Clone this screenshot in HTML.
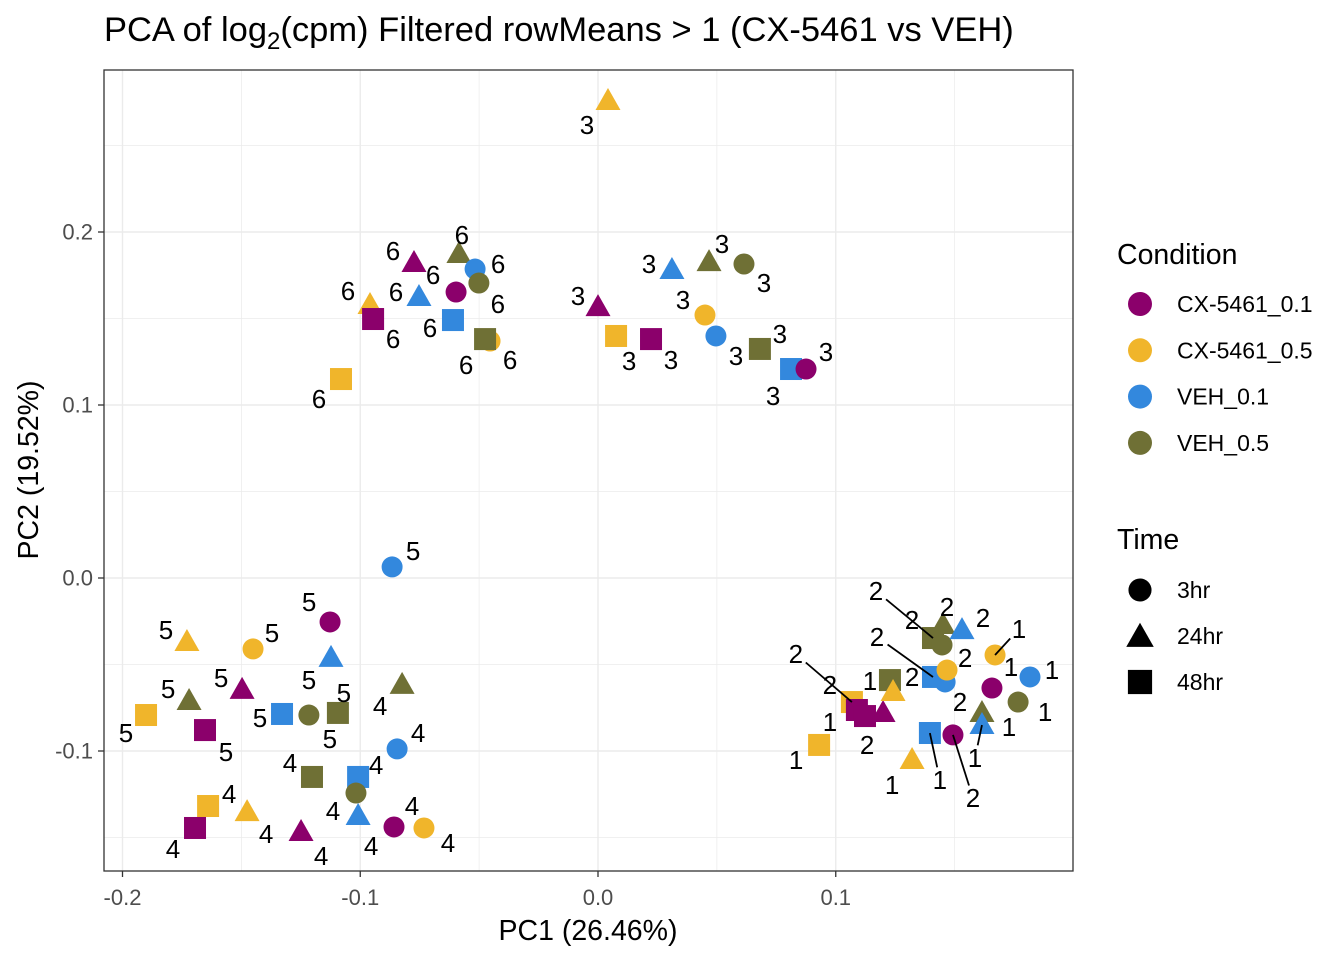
<!DOCTYPE html>
<html><head><meta charset="utf-8">
<style>
html,body{margin:0;padding:0;background:#fff;}
svg{display:block;font-family:"Liberation Sans",Arial,sans-serif;}
</style></head>
<body>
<svg id="chart" width="1344" height="960" viewBox="0 0 1344 960">
<rect x="0" y="0" width="1344" height="960" fill="#fff"/>
<text x="104" y="41" font-size="34.5" fill="#000">PCA of log<tspan font-size="24" dy="8">2</tspan><tspan dy="-8">(cpm) Filtered rowMeans &gt; 1 (CX-5461 vs VEH)</tspan></text>
<g id="grid"></g>
<g id="marks"></g>
<rect x="104" y="70" width="969" height="801" fill="none" stroke="#333" stroke-width="1.3"/>
<g id="axes"></g>
<text x="588" y="940" font-size="28.5" text-anchor="middle" fill="#000">PC1 (26.46%)</text>
<text transform="translate(38,470) rotate(-90)" font-size="28.5" text-anchor="middle" fill="#000">PC2 (19.52%)</text>
<g id="legend"></g>
</svg>
<script>
// ---- data ----
const conditionNames = ["CX-5461_0.1","CX-5461_0.5","VEH_0.1","VEH_0.5"];
const timeNames = ["3hr","24hr","48hr"];
const xTicks = [-0.2,-0.1,0.0,0.1];
const xTickLabels = ["-0.2","-0.1","0.0","0.1"];
const yTicks = [-0.1,0.0,0.1,0.2];
const yTickLabels = ["-0.1","0.0","0.1","0.2"];
const pc1 = [
 -0.1081,-0.0959,-0.0946,-0.0774,-0.0753,-0.0597,-0.0585,-0.0517,-0.0501,-0.0610,-0.0454,-0.0475,
 0.0042,0.0000,0.0076,0.0223,0.0311,0.0467,0.0614,0.0450,0.0496,0.0681,0.0812,0.0875,
 -0.0866,-0.1127,-0.1729,-0.1451,-0.1123,-0.1497,-0.1720,-0.1901,-0.1653,-0.1329,-0.1216,-0.1094,
 -0.0824,-0.0845,-0.1203,-0.1009,-0.1018,-0.1640,-0.1476,-0.1695,-0.1249,-0.1009,-0.0858,-0.0732,
 0.0930,0.1068,0.1089,0.1123,0.1199,0.1228,0.1241,0.1409,0.1460,0.1468,0.1409,0.1447,0.1451,0.1531,
 0.1670,0.1817,0.1657,0.1767,0.1615,0.1615,0.1396,0.1493,0.1321
];
const pc2 = [
 0.1150,0.1578,0.1497,0.1821,0.1624,0.1653,0.1873,0.1786,0.1705,0.1491,0.1370,0.1381,
 0.2757,0.1566,0.1399,0.1381,0.1780,0.1826,0.1815,0.1520,0.1399,0.1324,0.1208,0.1208,
 0.0064,-0.0254,-0.0370,-0.0410,-0.0462,-0.0647,-0.0711,-0.0792,-0.0879,-0.0786,-0.0792,-0.0780,
 -0.0618,-0.0988,-0.1150,-0.1150,-0.1243,-0.1318,-0.1353,-0.1445,-0.1468,-0.1376,-0.1439,-0.1445,
 -0.0965,-0.0717,-0.0763,-0.0798,-0.0780,-0.0590,-0.0659,-0.0572,-0.0601,-0.0532,-0.0347,-0.0387,-0.0272,-0.0301,
 -0.0445,-0.0572,-0.0636,-0.0717,-0.0780,-0.0850,-0.0896,-0.0907,-0.1052
];
const cond = [
 1,1,0,0,2,0,3,2,3,2,1,3,
 1,0,1,0,2,3,3,1,2,3,2,0,
 2,0,1,1,2,0,3,1,0,2,3,3,
 3,2,3,2,3,1,1,0,0,2,0,1,
 1,1,0,0,0,3,1,2,2,1,3,3,3,2,
 1,2,0,3,3,2,2,0,1
];
const timeIdx = [
 2,1,2,1,1,0,1,0,0,2,0,2,
 1,1,2,2,1,1,0,0,0,2,2,0,
 0,0,1,0,1,1,1,2,2,2,0,2,
 1,0,2,2,0,2,1,2,1,1,0,0,
 2,2,2,2,1,2,1,2,0,0,2,0,1,1,
 0,0,0,0,1,1,2,0,1
];
const sampleLabels = [
 "6","6","6","6","6","6","6","6","6","6","6","6",
 "3","3","3","3","3","3","3","3","3","3","3","3",
 "5","5","5","5","5","5","5","5","5","5","5","5",
 "4","4","4","4","4","4","4","4","4","4","4","4",
 "1","2","2","1","2","1","2","2","2","2","2","2","2","2",
 "1","1","1","1","1","1","1","2","1"
];
const labelDx = [
 -22,-22,20,-21,-23,-23,3,23,19,-23,20,-19,
 -21,-20,13,20,-23,13,20,-22,20,20,-18,20,
 21,-21,-21,19,-22,-21,-21,-20,21,-22,21,6,
 -22,21,-22,18,-23,21,19,-22,20,13,18,24,
 -23,-56,-27,-35,-16,-20,19,-56,20,13,-57,-30,4,21,
 24,22,19,27,27,-7,10,20,-20
];
const labelDy = [
 20,-14,20,-12,-5,-17,-19,-5,21,8,19,26,
 24,-11,25,21,-6,-18,19,-15,20,-15,27,-17,
 -16,-20,-12,-16,22,-12,-12,18,22,4,24,-20,
 21,-16,-14,-12,18,-12,22,21,24,30,-21,15,
 15,-48,-25,6,32,1,-15,-40,-24,32,-47,-25,-18,-12,
 -26,-7,-21,10,14,33,47,63,25
];
const labelSeg = [
 0,0,0,0,0,0,0,0,0,0,0,0,
 0,0,0,0,0,0,0,0,0,0,0,0,
 0,0,0,0,0,0,0,0,0,0,0,0,
 0,0,0,0,0,0,0,0,0,0,0,0,
 0,1,0,0,0,0,0,1,0,0,1,0,0,0,
 1,0,0,0,0,1,1,1,0
];
const colors = ["#8B006B","#F0B52B","#3388DD","#6F7035"];

// ---- scales ----
const X0=598, XS=2377.5, Y0=578, YS=1730;
function sx(v){return X0+v*XS;}
function sy(v){return Y0-v*YS;}
const NS="http://www.w3.org/2000/svg";
function mk(tag,attrs,parent){const e=document.createElementNS(NS,tag);for(const k in attrs)e.setAttribute(k,attrs[k]);parent.appendChild(e);return e;}

const grid=document.getElementById('grid');
for(let v=-0.25;v<=0.2001;v+=0.05){const px=sx(v);if(px<104||px>1073)continue;
 const major=Math.abs(Math.round(v*10)-v*10)<1e-6;
 const l=mk('line',{x1:px,x2:px,y1:70,y2:871,stroke:'#ebebeb','stroke-width':major?1.4:0.7},grid);
 
 }
for(let v=-0.2;v<=0.3001;v+=0.05){const py=sy(v);if(py<70||py>871)continue;
 const major=Math.abs(Math.round(v*10)-v*10)<1e-6;
 const l=mk('line',{x1:104,x2:1073,y1:py,y2:py,stroke:'#ebebeb','stroke-width':major?1.4:0.7},grid);
 
 }

const axes=document.getElementById('axes');
xTicks.forEach((v,i)=>{const px=sx(v);
 const t=mk('line',{x1:px,x2:px,y1:871,y2:877,stroke:'#333','stroke-width':1.3},axes);
 
 
 const tx=mk('text',{x:px,y:905,'font-size':22,'text-anchor':'middle',fill:'#4d4d4d'},axes);
 tx.textContent=xTickLabels[i];
 
 });
yTicks.forEach((v,i)=>{const py=sy(v);
 const t=mk('line',{x1:98,x2:104,y1:py,y2:py,stroke:'#333','stroke-width':1.3},axes);
 
 
 const tx=mk('text',{x:93,y:py+7.5,'font-size':22,'text-anchor':'end',fill:'#4d4d4d'},axes);
 tx.textContent=yTickLabels[i];
 
 });

function shape(parent,t,cx,cy,fill,s){
 let e;
 if(t===0) e=mk('circle',{cx:cx,cy:cy,r:10.5*s,fill:fill},parent);
 else if(t===1) e=mk('polygon',{points:`${cx},${cy-13*s} ${cx+12.5*s},${cy+9*s} ${cx-12.5*s},${cy+9*s}`,fill:fill},parent);
 else e=mk('rect',{x:cx-11*s,y:cy-11*s,width:22*s,height:22*s,fill:fill},parent);
 return e;
}

const marks=document.getElementById('marks');
const ptG=mk('g',{},marks);


const lbG=mk('g',{},marks);


pc1.forEach((v,i)=>{
 const cx=sx(v), cy=sy(pc2[i]);
 const e=shape(ptG,timeIdx[i],cx,cy,colors[cond[i]],1);
 
 
});
pc1.forEach((v,i)=>{
 const cx=sx(v), cy=sy(pc2[i]);
 const lx=cx+labelDx[i], ly=cy+labelDy[i];
 if(labelSeg[i]){
  const dx=cx-lx, dy=cy-ly, d=Math.hypot(dx,dy);
  const s=mk('line',{x1:lx+dx/d*13,y1:ly+dy/d*13,x2:cx,y2:cy,stroke:'#000','stroke-width':1.8},lbG);
  
  
 }
 const t=mk('text',{x:lx,y:ly+9,'font-size':26,'text-anchor':'middle',fill:'#000'},lbG);
 t.textContent=sampleLabels[i];
 
 
});

const lg=document.getElementById('legend');
const lt=mk('text',{x:1117,y:264,'font-size':28.5,fill:'#000'},lg);
lt.textContent='Condition';


conditionNames.forEach((n,i)=>{const y=304+i*46.3;
 const c=mk('circle',{cx:1140,cy:y,r:12,fill:colors[i]},lg);
 
 
 const t=mk('text',{x:1177,y:y+8,'font-size':23,fill:'#000'},lg);
 t.textContent=n;
 
 });
const lt2=mk('text',{x:1117,y:549,'font-size':28.5,fill:'#000'},lg);
lt2.textContent='Time';


timeNames.forEach((n,i)=>{const y=590+i*46;
 const e=shape(lg,i,1140,y+(i===1?1:0),'#000',1.1);
 
 
 const t=mk('text',{x:1177,y:y+8,'font-size':23,fill:'#000'},lg);
 t.textContent=n;
 
 });
</script>
</body></html>
